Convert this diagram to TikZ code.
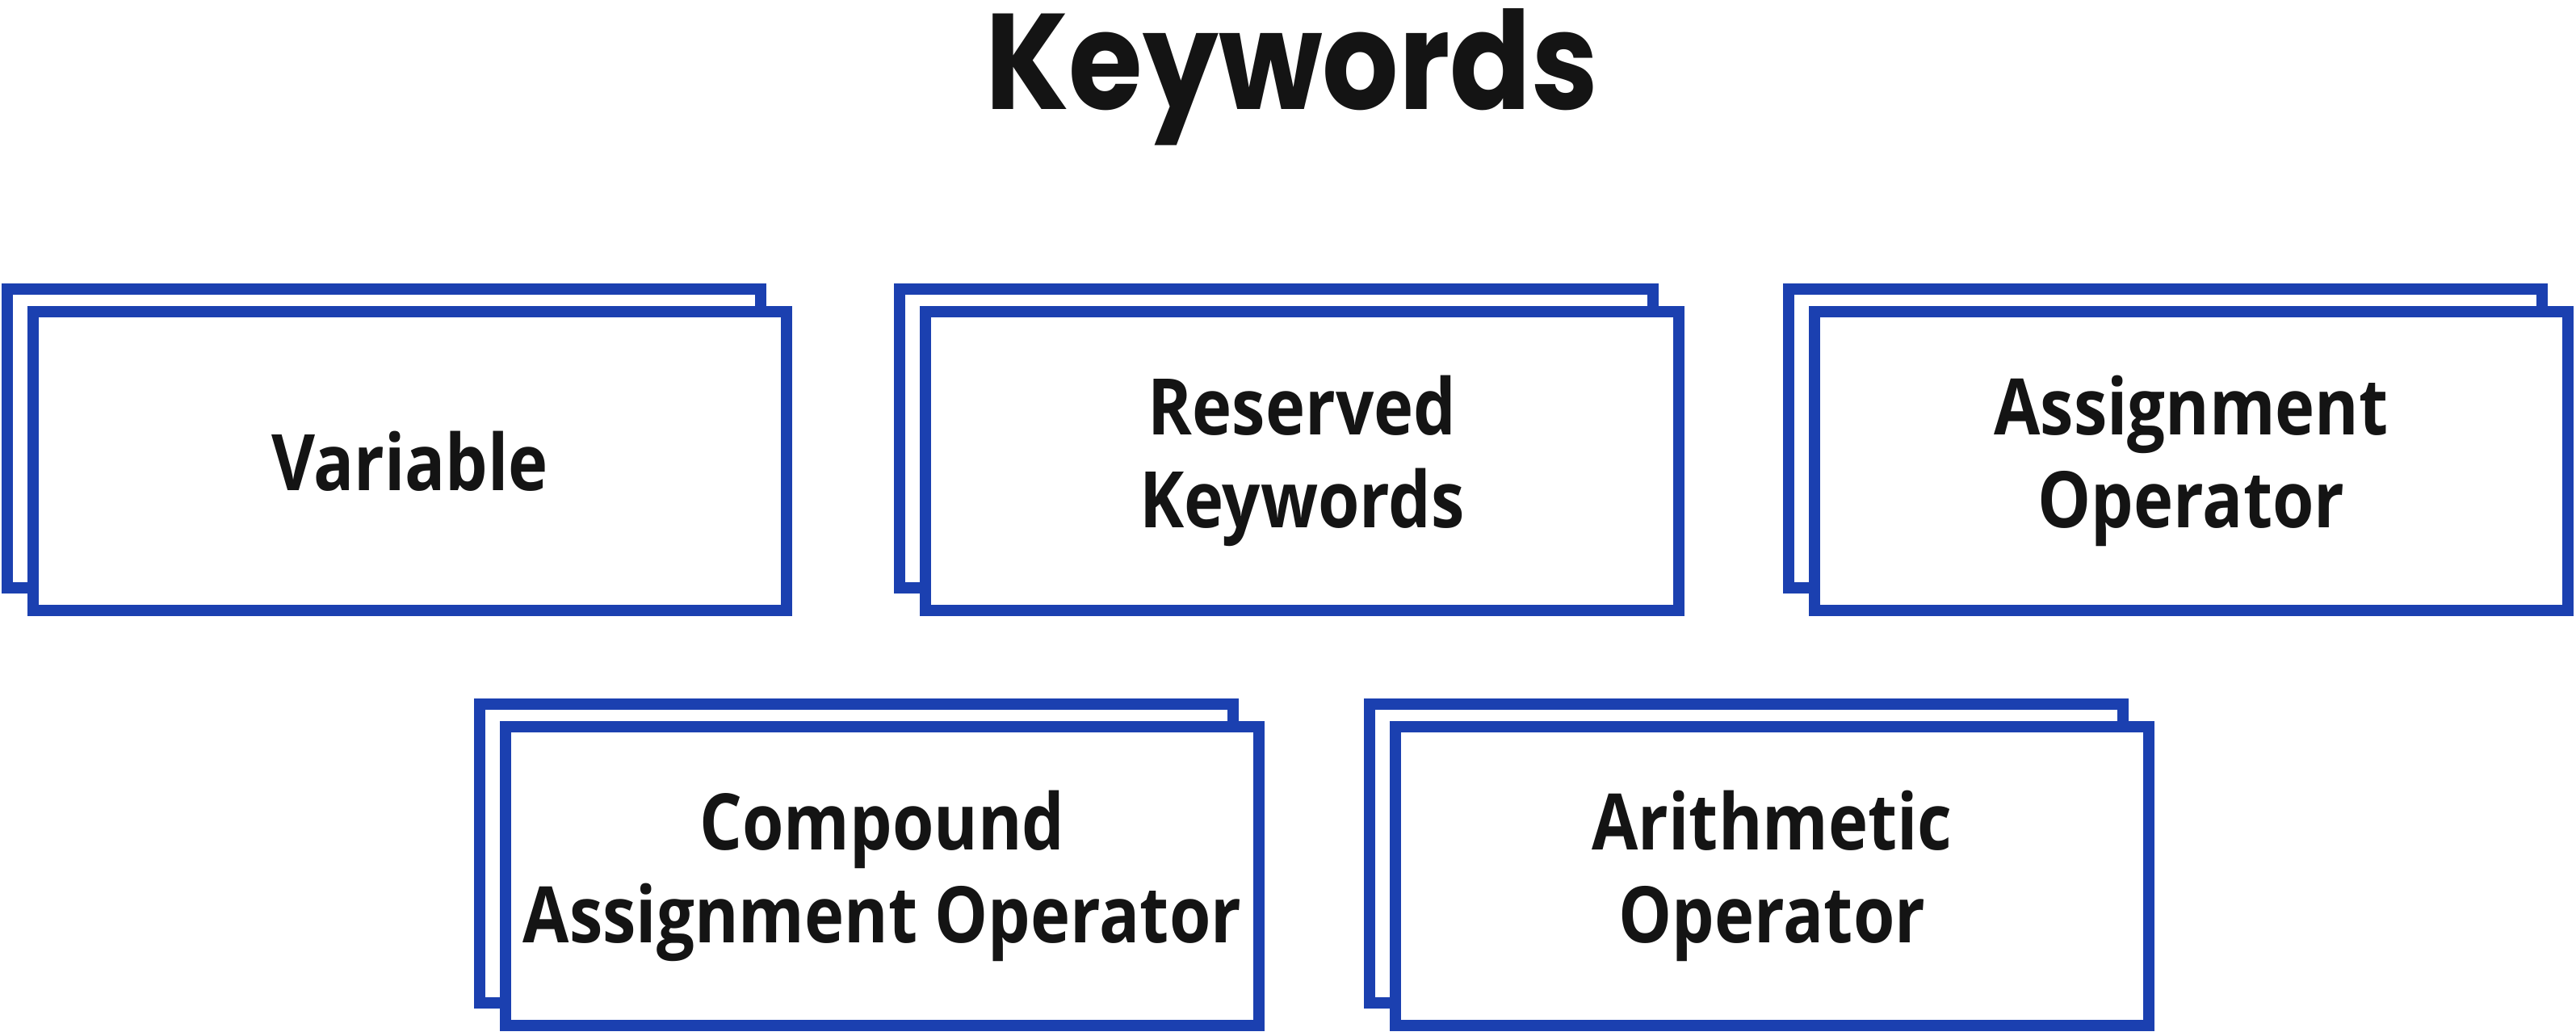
\documentclass[tikz,border=0pt]{standalone}
\usepackage{fontspec}
\usepackage{tikz}
\usetikzlibrary{positioning,calc}
\newfontfamily\cardfont{Open Sans}[FakeStretch=0.86]
\newfontfamily\headfont{Poppins}[FakeStretch=0.88]
\definecolor{cardc}{HTML}{1B40B0}
\definecolor{inkc}{HTML}{141414}
\tikzset{
  cardbase/.style={draw=cardc, fill=white, line width=0.14cm, inner sep=0pt,
                   minimum width=9.33cm, minimum height=3.70cm},
  backcard/.style={cardbase},
  card/.style={cardbase, align=center, text=inkc,
               font=\cardfont\bfseries\fontsize{27.5}{32.5}\selectfont},
  headline/.style={anchor=base, text=inkc,
                   font=\headfont\bfseries\fontsize{48}{54}\selectfont},
}

\begin{document}
\begin{tikzpicture}
  \useasboundingbox (0,0) rectangle (31.9,12.83);
  \node[headline] (title) at (16.0,11.47) {Keywords};

  % top row
  \node[backcard] (varback) at (4.755,7.40) {};
  \node[card] (var) at ([shift={(0.32,-0.28)}]varback.center) {Variable};
  \node[backcard] (resback) at (15.805,7.40) {};
  \node[card] (res) at ([shift={(0.32,-0.28)}]resback.center) {Reserved\\Keywords};
  \node[backcard] (asgback) at (26.815,7.40) {};
  \node[card] (asg) at ([shift={(0.32,-0.28)}]asgback.center) {Assignment\\Operator};

  % bottom row
  \node[backcard] (cmpback) at (10.605,2.26) {};
  \node[card] (cmp) at ([shift={(0.32,-0.28)}]cmpback.center) {Compound\\Assignment Operator};
  \node[backcard] (aritback) at (21.625,2.26) {};
  \node[card] (arit) at ([shift={(0.32,-0.28)}]aritback.center) {Arithmetic\\Operator};
\end{tikzpicture}
\end{document}
